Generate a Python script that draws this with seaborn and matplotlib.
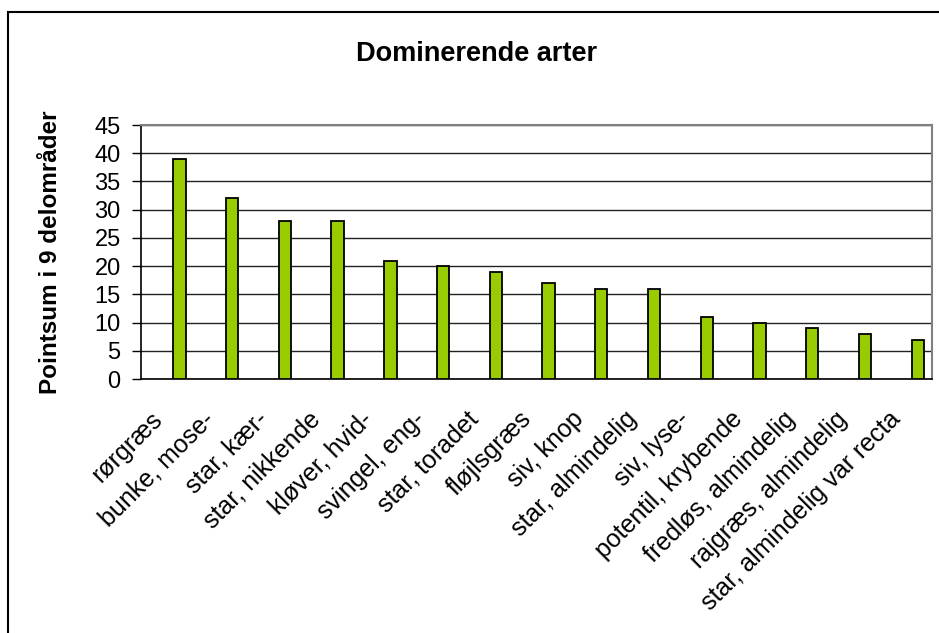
import matplotlib
matplotlib.use("Agg")
import matplotlib.pyplot as plt
from matplotlib.patches import Rectangle
from matplotlib.ticker import MultipleLocator
from matplotlib.transforms import ScaledTranslation
import pandas as pd
import seaborn as sns

# data
species = ["rørgræs", "bunke, mose-", "star, kær-", "star, nikkende", "kløver, hvid-",
           "svingel, eng-", "star, toradet", "fløjlsgræs", "siv, knop", "star, almindelig",
           "siv, lyse-", "potentil, krybende", "fredløs, almindelig", "rajgræs, almindelig",
           "star, almindelig var recta"]
points = [39, 32, 28, 28, 21, 20, 19, 17, 16, 16, 11, 10, 9, 8, 7]

df = pd.DataFrame({"art": species, "point": points})

sns.set_style("white")
plt.rcParams["font.family"] = ["Liberation Sans", "DejaVu Sans"]
plt.rcParams["text.color"] = "black"
plt.rcParams["axes.labelcolor"] = "black"
plt.rcParams["xtick.color"] = "black"
plt.rcParams["ytick.color"] = "black"

fig = plt.figure(figsize=(9.39, 6.33), dpi=100)
ax = fig.add_axes([0.150, 0.401, 0.8425, 0.4015])

sns.barplot(data=df, x="art", y="point", color="#99CC00", saturation=1,
            width=0.235, edgecolor="black", linewidth=1.3, ax=ax, zorder=3)

# excel puts the bars right of the category centre (empty first series)
for bar in ax.patches:
    bar.set_x(bar.get_x() + 0.23)

ax.set_xlim(-0.5, len(species) - 0.5)
ax.set_ylim(0, 45)
ax.yaxis.set_major_locator(MultipleLocator(5))
ax.grid(axis="y", color="#222222", linewidth=1, zorder=0)
ax.grid(axis="x", visible=False)

# labels at the category centres, tick marks between categories
ax.set_xticks(range(len(species)))
ax.set_xticklabels(species, rotation=45, ha="right", va="center",
                   rotation_mode="anchor", fontsize=18)
ax.set_xticks([i - 0.5 for i in range(len(species) + 1)], minor=True)
ax.tick_params(axis="x", which="major", length=0, pad=26)
ax.tick_params(axis="x", which="minor", length=6, width=1, direction="out")
ax.tick_params(axis="y", length=6.5, width=1, direction="out",
               labelsize=17, pad=8, left=True)
shift = ScaledTranslation(-9 / 100, 0, fig.dpi_scale_trans)
for lab in ax.get_xticklabels():
    lab.set_transform(lab.get_transform() + shift)

for side in ["left", "bottom"]:
    ax.spines[side].set_color("black")
    ax.spines[side].set_linewidth(1.2)
for side in ["top", "right"]:
    ax.spines[side].set_color("#808080")
    ax.spines[side].set_linewidth(1.5)

ax.set_xlabel("")
ax.set_ylabel("Pointsum i 9 delområder", fontsize=17.5, fontweight="bold")
ax.yaxis.set_label_coords(-0.100, 0.5)

fig.text(0.507, 0.915, "Dominerende arter", ha="center", va="center",
         fontsize=19.5, fontweight="bold")

# outer chart frame, cut off at the right and bottom
fig.patches.append(Rectangle((8 / 939, -0.1), 1.2, 0.1 + 1 - 12 / 633,
                             transform=fig.transFigure, fill=False,
                             edgecolor="black", linewidth=1.5))

fig.savefig("out.png", dpi=100)
